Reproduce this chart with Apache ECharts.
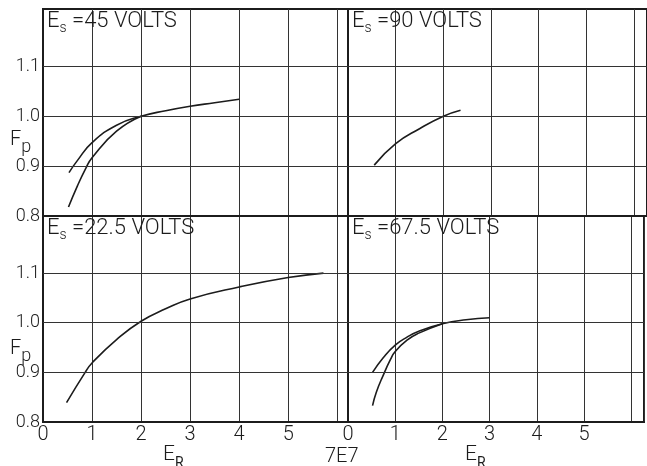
<!DOCTYPE html>
<html>
<head>
<meta charset="utf-8">
<style>
  html, body { margin: 0; padding: 0; background: #fff; }
  #chart { width: 647px; height: 466px; }
</style>
<script src="https://cdn.jsdelivr.net/npm/echarts@6/dist/echarts.min.js"></script>
</head>
<body>
<div id="chart"></div>
<script>
// horizontal rules inside each panel (Fp)
const gridYValues = [0.9, 1.0, 1.1]

// screen voltage of each panel: top-left, top-right, bottom-left, bottom-right
const panelVolts = ['45', '90', '22.5', '67.5']

// Fp against E_R
const es45Upper = [[0.53, 0.887], [0.7, 0.911], [1, 0.947], [1.5, 0.982], [2, 1.0], [2.5, 1.011], [3, 1.02], [3.5, 1.027], [4, 1.034]]
const es45Lower = [[0.52, 0.818], [0.7, 0.86], [0.88, 0.897], [1, 0.917], [1.5, 0.97], [2, 1.0]]
const es90 = [[0.55, 0.902], [1, 0.945], [1.5, 0.975], [2, 1.0], [2.36, 1.012]]
const es225 = [[0.48, 0.839], [0.86, 0.9], [1, 0.919], [1.5, 0.966], [2, 1.003], [2.5, 1.028], [3, 1.048], [4, 1.072], [5, 1.091], [5.72, 1.1]]
const es675Upper = [[0.52, 0.9], [0.75, 0.93], [1, 0.955], [1.25, 0.971], [1.5, 0.983], [2, 0.998], [2.5, 1.006], [3, 1.01]]
const es675Lower = [[0.52, 0.833], [0.6, 0.86], [0.75, 0.895], [0.9, 0.926], [1, 0.942], [1.25, 0.965], [1.5, 0.979], [2, 0.998]]

const FONT = 'Roboto'
const INK = '#1c1c1c'

const chart = echarts.init(document.getElementById('chart'), null, { renderer: 'canvas' })

const grids = [
  { left: 43, top: 9, width: 305, height: 207 },
  { left: 348, top: 9, width: 302, height: 207 },
  { left: 43, top: 216, width: 305, height: 206 },
  { left: 348, top: 216, width: 302, height: 206 }
]
const xMax = [6.22, 6.27, 6.22, 6.27]

function xAxisFor(i) {
  const bottom = i >= 2
  return {
    gridIndex: i,
    type: 'value',
    min: 0,
    max: xMax[i],
    interval: 1,
    axisLine: { show: true, lineStyle: { color: INK, width: 2 } },
    axisTick: { show: false },
    axisLabel: {
      show: bottom,
      margin: 3,
      fontFamily: FONT,
      fontWeight: 300,
      fontSize: 20,
      color: INK,
      formatter: v => (Number.isInteger(v) && v <= 5 ? String(v) : '')
    },
    splitLine: { show: true, lineStyle: { color: '#333', width: 1 } }
  }
}

function yAxisFor(i) {
  const left = i % 2 === 0
  return {
    gridIndex: i,
    type: 'value',
    min: 0.8,
    max: 1.215,
    interval: 0.1,
    axisLine: { show: true, lineStyle: { color: INK, width: 2 } },
    axisTick: { show: false },
    axisLabel: {
      show: left,
      margin: 3,
      fontFamily: FONT,
      fontWeight: 300,
      fontSize: 18,
      color: INK,
      formatter: v => (v > 1.15 ? '' : v.toFixed(1))
    },
    splitLine: { show: false }
  }
}

function curve(data, i, withRules) {
  const s = {
    type: 'line',
    data: data,
    xAxisIndex: i,
    yAxisIndex: i,
    smooth: 0.5,
    showSymbol: false,
    silent: true,
    lineStyle: { color: INK, width: 1.6 }
  }
  if (withRules) {
    s.markLine = {
      silent: true,
      symbol: ['none', 'none'],
      label: { show: false },
      lineStyle: { color: '#333', width: 1, type: 'solid' },
      data: gridYValues.map(v => ({ yAxis: v }))
    }
  }
  return s
}

const subRich = {
  e: { fontFamily: FONT, fontWeight: 300, fontSize: 22, lineHeight: 28, color: INK },
  s: { fontFamily: FONT, fontWeight: 300, fontSize: 14, lineHeight: 14, verticalAlign: 'bottom', color: INK },
  t: { fontFamily: FONT, fontWeight: 300, fontSize: 22, lineHeight: 28, color: INK }
}

const titlePos = [[47, 7], [352, 7], [47, 214], [352, 214]]

const titles = panelVolts.map((v, i) => ({
  text: '{e|E}{s|s}{t| =' + v + ' VOLTS}',
  left: titlePos[i][0],
  top: titlePos[i][1],
  padding: 0,
  textStyle: { rich: subRich }
}))

const fpRich = {
  f: { fontFamily: FONT, fontWeight: 300, fontSize: 20, lineHeight: 32, color: INK },
  p: { fontFamily: FONT, fontWeight: 300, fontSize: 18, lineHeight: 18, verticalAlign: 'bottom', color: INK }
}
const erRich = {
  f: { fontFamily: FONT, fontWeight: 300, fontSize: 21, lineHeight: 30, color: INK },
  p: { fontFamily: FONT, fontWeight: 400, fontSize: 14, lineHeight: 14, verticalAlign: 'bottom', color: INK }
}

titles.push(
  { text: '{f|F}{p|p}', left: 10, top: 124, padding: 0, textStyle: { rich: fpRich } },
  { text: '{f|F}{p|p}', left: 10, top: 333, padding: 0, textStyle: { rich: fpRich } },
  { text: '{f|E}{p|R}', left: 163, top: 440, padding: 0, textStyle: { rich: erRich } },
  { text: '{f|E}{p|R}', left: 465, top: 440, padding: 0, textStyle: { rich: erRich } },
  { text: '7E7', left: 325, top: 447, padding: 0, textStyle: { fontFamily: FONT, fontWeight: 300, fontSize: 20, lineHeight: 20, color: INK } }
)

const option = {
  backgroundColor: '#fff',
  animation: false,
  title: titles,
  grid: grids.map(g => Object.assign({ show: true, borderColor: INK, borderWidth: 2, backgroundColor: 'transparent' }, g)),
  xAxis: [0, 1, 2, 3].map(xAxisFor),
  yAxis: [0, 1, 2, 3].map(yAxisFor),
  series: [
    curve(es45Upper, 0, true),
    curve(es45Lower, 0, false),
    curve(es90, 1, true),
    curve(es225, 2, true),
    curve(es675Upper, 3, true),
    curve(es675Lower, 3, false)
  ]
}

chart.setOption(option)
</script>
</body>
</html>
